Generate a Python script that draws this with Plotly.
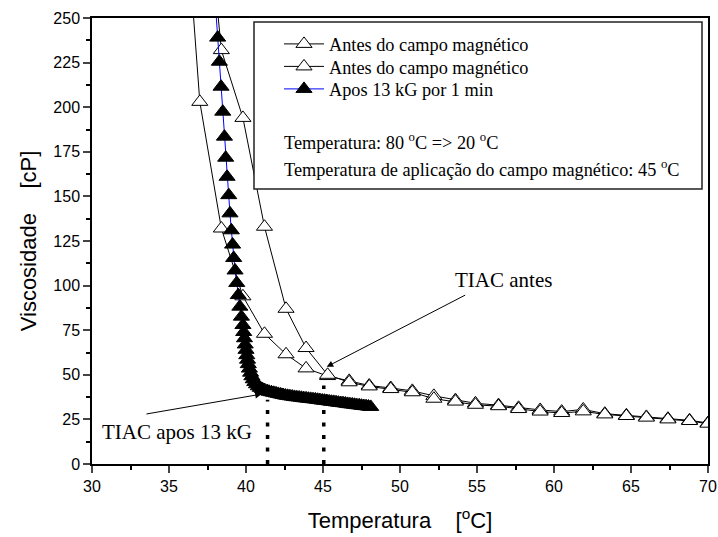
import plotly.graph_objects as go

# ---- data ----
antes1_x = [35.6, 37.0, 38.4, 39.8, 41.2, 42.6, 43.9, 45.3, 46.7, 48.0, 49.4, 50.8, 52.2, 53.6,
            54.9, 56.4, 57.7, 59.1, 60.5, 61.9, 63.3, 64.7, 66.0, 67.4, 68.8, 70.0]
antes1_y = [367, 203, 132, 94, 73, 61.5, 53.6, 49.3, 46.6, 44.0, 42.6, 41.0, 38.2, 35.8,
            34.0, 33.0, 31.5, 30.3, 29.4, 30.6, 28.2, 27.3, 26.4, 25.4, 24.5, 23.0]

antes2_x = [37.0, 38.4, 39.8, 41.2, 42.6, 43.9, 45.3, 46.7, 48.0, 49.4, 50.8, 52.2, 53.6,
            54.9, 56.4, 57.7, 59.1, 60.5, 61.9, 63.3, 64.7, 66.0, 67.4, 68.8, 70.0]
antes2_y = [358, 232, 194, 133, 87, 65, 50.0, 45.8, 43.5, 42.0, 40.2, 36.6, 35.0,
            33.2, 32.4, 30.8, 29.4, 28.6, 29.5, 27.8, 26.9, 26.0, 25.0, 24.1, 22.6]

apos_x = [38.05, 38.16, 38.27, 38.38, 38.49, 38.60, 38.68, 38.77, 38.88, 38.96, 39.05, 39.13,
          39.20, 39.29, 39.40, 39.50, 39.60, 39.70, 39.80, 39.85, 39.90, 39.95, 40.00, 40.05,
          40.10, 40.15, 40.22, 40.30, 40.38, 40.47, 40.57, 40.68, 40.80, 40.93, 41.07, 41.22,
          41.38, 41.50, 41.65, 41.80, 41.95, 42.10, 42.25, 42.40, 42.55, 42.70, 42.85, 43.00,
          43.15, 43.30, 43.45, 43.60, 43.75, 43.90, 44.05, 44.20, 44.35, 44.50, 44.65, 44.80,
          44.95, 45.10, 45.25, 45.40, 45.55, 45.70, 45.85, 46.00, 46.15, 46.30, 46.45, 46.60,
          46.75, 46.90, 47.05, 47.20, 47.35, 47.50, 47.65, 47.80, 47.95, 48.10]
apos_y = [253, 239, 225.5, 211.5, 197.5, 183.5, 171.7, 161, 150.7, 140.5, 131, 123,
          115.5, 108.5, 101.5, 94.7, 88.2, 82.6, 77.9, 74, 70.5, 67, 64, 61,
          58.5, 56, 53.5, 51.2, 49.2, 47.5, 46, 44.7, 43.6, 42.7, 42.0, 41.4,
          40.9, 40.5, 40.2, 39.9, 39.6, 39.3, 39.0, 38.7, 38.4, 38.2, 38.0, 37.8,
          37.6, 37.4, 37.3, 37.1, 36.9, 36.8, 36.6, 36.5, 36.3, 36.2, 36.0, 35.8,
          35.6, 35.5, 35.3, 35.1, 34.9, 34.8, 34.6, 34.4, 34.2, 34.1, 33.9, 33.7,
          33.5, 33.4, 33.2, 33.0, 32.9, 32.7, 32.5, 32.4, 32.2, 32.0]

legend_names = ["Antes do campo magnético", "Antes do campo magnético", "Apos 13 kG por 1 min"]
x_ticks = [30, 35, 40, 45, 50, 55, 60, 65, 70]
y_ticks = [0, 25, 50, 75, 100, 125, 150, 175, 200, 225, 250]

tiac_antes = 45.05
tiac_apos = 41.4

SERIF = "Liberation Serif"
SANS = "Liberation Sans"

# plot area in pixels
L, R, T, B = 92, 708, 18, 464
def px(xp):
    return (xp - L) / (R - L)
def py(yp):
    return 1 - (yp - T) / (B - T)

fig = go.Figure()
fig.add_trace(go.Scatter(x=antes1_x, y=antes1_y, mode="lines+markers", name=legend_names[0],
                         legend="legend",
                         line=dict(color="black", width=1),
                         marker=dict(symbol="triangle-up", size=14, color="white",
                                     line=dict(color="black", width=1))))
fig.add_trace(go.Scatter(x=antes2_x, y=antes2_y, mode="lines+markers", name=legend_names[1],
                         legend="legend2",
                         line=dict(color="black", width=1),
                         marker=dict(symbol="triangle-up", size=14, color="white",
                                     line=dict(color="black", width=1))))
fig.add_trace(go.Scatter(x=apos_x, y=apos_y, mode="lines+markers", name=legend_names[2],
                         legend="legend3",
                         line=dict(color="blue", width=1),
                         marker=dict(symbol="triangle-up", size=14, color="black",
                                     line=dict(color="black", width=1))))

shapes = [
    dict(type="line", xref="x", yref="y", x0=tiac_apos, x1=tiac_apos, y0=0, y1=36,
         line=dict(color="black", width=3.5, dash="4px,8.5px")),
    dict(type="line", xref="x", yref="y", x0=tiac_antes, x1=tiac_antes, y0=0, y1=44,
         line=dict(color="black", width=3.5, dash="4px,8.5px")),
    dict(type="rect", xref="paper", yref="paper", x0=px(254), x1=px(702), y0=py(189), y1=py(22),
         line=dict(color="#222", width=1.5), fillcolor="white", layer="above"),
]

annotations = [
    dict(x=45.24, y=54.5, ax=54.33, ay=95.1, xref="x", yref="y", axref="x", ayref="y",
         text="", showarrow=True, arrowhead=2, arrowsize=1.3, arrowwidth=1, arrowcolor="black"),
    dict(x=56.75, y=103.1, xref="x", yref="y", text="TIAC antes", showarrow=False,
         font=dict(family=SERIF, size=21, color="black")),
    dict(x=41.02, y=39.2, ax=33.44, ay=27.9, xref="x", yref="y", axref="x", ayref="y",
         text="", showarrow=True, arrowhead=2, arrowsize=1.3, arrowwidth=1, arrowcolor="black"),
    dict(x=35.52, y=18.1, xref="x", yref="y", text="TIAC apos 13 kG", showarrow=False,
         font=dict(family=SERIF, size=21, color="black")),
    dict(x=px(282), y=py(141), xref="paper", yref="paper", xanchor="left", yanchor="middle",
         text="Temperatura: 80 <sup>o</sup>C => 20 <sup>o</sup>C", showarrow=False,
         font=dict(family=SERIF, size=18.3, color="black")),
    dict(x=px(282), y=py(168), xref="paper", yref="paper", xanchor="left", yanchor="middle",
         text="Temperatura de aplicação do campo magnético: 45 <sup>o</sup>C", showarrow=False,
         font=dict(family=SERIF, size=18.3, color="black")),
]

def leg(yc):
    return dict(x=px(279), y=py(yc), xanchor="left", yanchor="middle", itemwidth=40,
                bgcolor="rgba(0,0,0,0)", borderwidth=0,
                font=dict(family=SERIF, size=18.3, color="black"))

fig.update_layout(
    width=718, height=537,
    margin=dict(l=92, r=10, t=18, b=73),
    plot_bgcolor="white", paper_bgcolor="white",
    shapes=shapes, annotations=annotations,
    showlegend=True,
    legend=leg(44), legend2=leg(66.5), legend3=leg(89),
    xaxis=dict(range=[30, 70], tickvals=x_ticks, ticks="outside", ticklen=7, tickwidth=1.5,
               showline=True, linecolor="black", linewidth=1.5, mirror=True, showgrid=False,
               zeroline=False, automargin=False,
               tickfont=dict(family=SANS, size=16, color="black"),
               minor=dict(dtick=2.5, ticks="outside", ticklen=4, tickwidth=1.5, tickcolor="black"),
               title=dict(text="Temperatura\u00a0\u00a0\u00a0\u00a0[<sup>o</sup>C]",
                          font=dict(family=SANS, size=22, color="black"), standoff=19)),
    yaxis=dict(range=[0, 250], tickvals=y_ticks, ticks="outside", ticklen=7, tickwidth=1.5,
               showline=True, linecolor="black", linewidth=1.5, mirror=True, showgrid=False,
               zeroline=False, automargin=False,
               tickfont=dict(family=SANS, size=16, color="black"),
               minor=dict(dtick=12.5, ticks="outside", ticklen=4, tickwidth=1.5, tickcolor="black"),
               title=dict(text="Viscosidade\u00a0\u00a0\u00a0\u00a0[cP]",
                          font=dict(family=SANS, size=22, color="black"), standoff=11)),
)

fig.write_html("out.html")
